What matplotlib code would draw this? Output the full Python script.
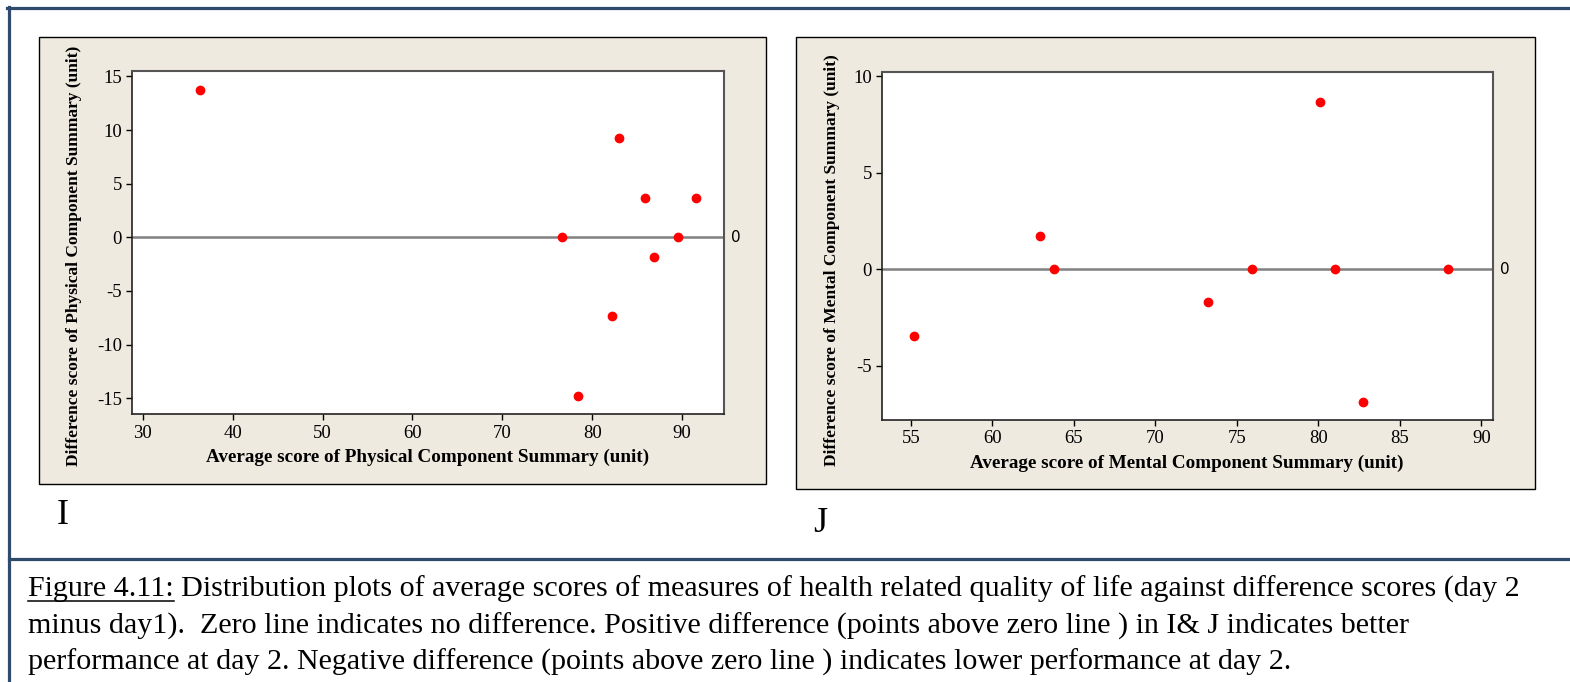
import matplotlib
matplotlib.use("Agg")
import matplotlib.pyplot as plt
from matplotlib.patches import Rectangle
from matplotlib.lines import Line2D

plt.rcParams["axes.unicode_minus"] = False

# data
pcs_avg = [36.4, 83.0, 85.85, 91.5, 76.6, 89.5, 86.85, 82.2, 78.4]
pcs_diff = [13.7, 9.25, 3.7, 3.7, 0.0, 0.0, -1.8, -7.35, -14.75]
mcs_avg = [55.2, 62.9, 63.8, 73.25, 75.9, 80.1, 81.0, 82.75, 87.95]
mcs_diff = [-3.45, 1.75, 0.0, -1.7, 0.0, 8.65, 0.0, -6.85, 0.0]

pcs_xticks = [30, 40, 50, 60, 70, 80, 90]
pcs_yticks = [-15, -10, -5, 0, 5, 10, 15]
mcs_xticks = [55, 60, 65, 70, 75, 80, 85, 90]
mcs_yticks = [-5, 0, 5, 10]

caption = [
    "Figure 4.11: Distribution plots of average scores of measures of health related quality of life against difference scores (day 2",
    "minus day1).  Zero line indicates no difference. Positive difference (points above zero line ) in I& J indicates better",
    "performance at day 2. Negative difference (points above zero line ) indicates lower performance at day 2.",
]

W, H = 1570, 682
fig = plt.figure(figsize=(W / 100, H / 100), dpi=100)
fig.patch.set_facecolor("white")

serif = "Liberation Serif"
beige = "#EEEAE0"
blue = "#2F4A6D"


def fx(px):
    return px / W


def fy(py):
    return 1 - py / H


def box(x0, y0, x1, y1):
    fig.add_artist(Rectangle((fx(x0), fy(y1)), fx(x1 - x0), (y1 - y0) / H,
                             transform=fig.transFigure, facecolor=beige,
                             edgecolor="black", lw=1.0, zorder=0))


def panel(rect, xs, ys, xlim, ylim, xticks, yticks, xlabel, ylabel, xl_pos, yl_pos):
    x0, y0, x1, y1 = rect
    ax = fig.add_axes([fx(x0), fy(y1), fx(x1 - x0), (y1 - y0) / H])
    ax.set_facecolor("white")
    ax.axhline(0, color="#808080", lw=1.8, zorder=1)
    ax.plot(xs, ys, "o", color="#FF0000", markersize=6, zorder=3)
    ax.set_xlim(*xlim)
    ax.set_ylim(*ylim)
    ax.set_xticks(xticks)
    ax.set_yticks(yticks)
    ax.tick_params(direction="out", length=4, width=1, labelsize=13.5, pad=3.5, colors="black")
    for lab in ax.get_xticklabels() + ax.get_yticklabels():
        lab.set_fontfamily(serif)
    for s in ["left", "bottom"]:
        ax.spines[s].set_color("#222222")
        ax.spines[s].set_linewidth(1.2)
    for s in ["top", "right"]:
        ax.spines[s].set_color("#555555")
        ax.spines[s].set_linewidth(1.5)
    ax.set_xlabel(xlabel, fontfamily=serif, fontweight="bold", fontsize=13.8)
    ax.set_ylabel(ylabel, fontfamily=serif, fontweight="bold", fontsize=12.5)
    ax.xaxis.set_label_coords(*xl_pos)
    ax.yaxis.set_label_coords(*yl_pos)
    ax.xaxis.label.set_va("center")
    ax.yaxis.label.set_va("center")
    ax.text(1.012, 0, "0", transform=ax.get_yaxis_transform(), fontsize=11,
            fontfamily="DejaVu Sans", ha="left", va="center")
    return ax


box(39.3, 37.3, 766, 484)
box(795.6, 37.3, 1535, 489)

panel((132.3, 71, 724.3, 414.3), pcs_avg, pcs_diff, (28.84, 94.7), (-16.5, 15.5),
      pcs_xticks, pcs_yticks,
      "Average score of Physical Component Summary (unit)",
      "Difference score of Physical Component Summary (unit)",
      (0.498, -0.126), (-0.099, 0.461))

panel((882.3, 71.7, 1492.7, 419.9), mcs_avg, mcs_diff, (53.24, 90.69), (-7.8, 10.24),
      mcs_xticks, mcs_yticks,
      "Average score of Mental Component Summary (unit)",
      "Difference score of Mental Component Summary (unit)",
      (0.499, -0.124), (-0.0824, 0.458))

fig.text(fx(62.5), fy(515), "I", fontfamily=serif, fontsize=26, ha="center", va="center")
fig.text(fx(820), fy(523), "J", fontfamily=serif, fontsize=26, ha="center", va="center")

# page borders
fig.add_artist(Line2D([fx(7), 1], [fy(7.5), fy(7.5)], transform=fig.transFigure, color=blue, lw=2.3))
fig.add_artist(Line2D([fx(9), fx(9)], [fy(6.5), 0], transform=fig.transFigure, color=blue, lw=2.3))
fig.add_artist(Line2D([fx(9), 1], [fy(559), fy(559)], transform=fig.transFigure, color=blue, lw=2.3))

# caption
cap_size = 21.6
baselines = [597, 633.5, 670]
for line, b in zip(caption, baselines):
    fig.text(fx(28), fy(b), line, fontfamily=serif, fontsize=cap_size, ha="left", va="baseline")

renderer = fig.canvas.get_renderer()
tmp = fig.text(fx(28), fy(baselines[0]), "Figure 4.11:", fontfamily=serif, fontsize=cap_size,
               ha="left", va="baseline")
bb = tmp.get_window_extent(renderer)
tmp.remove()
uy = fy(baselines[0] + 4)
fig.add_artist(Line2D([fx(28), bb.x1 / W], [uy, uy], transform=fig.transFigure, color="black", lw=1.1))

fig.savefig("out.png", dpi=100)
